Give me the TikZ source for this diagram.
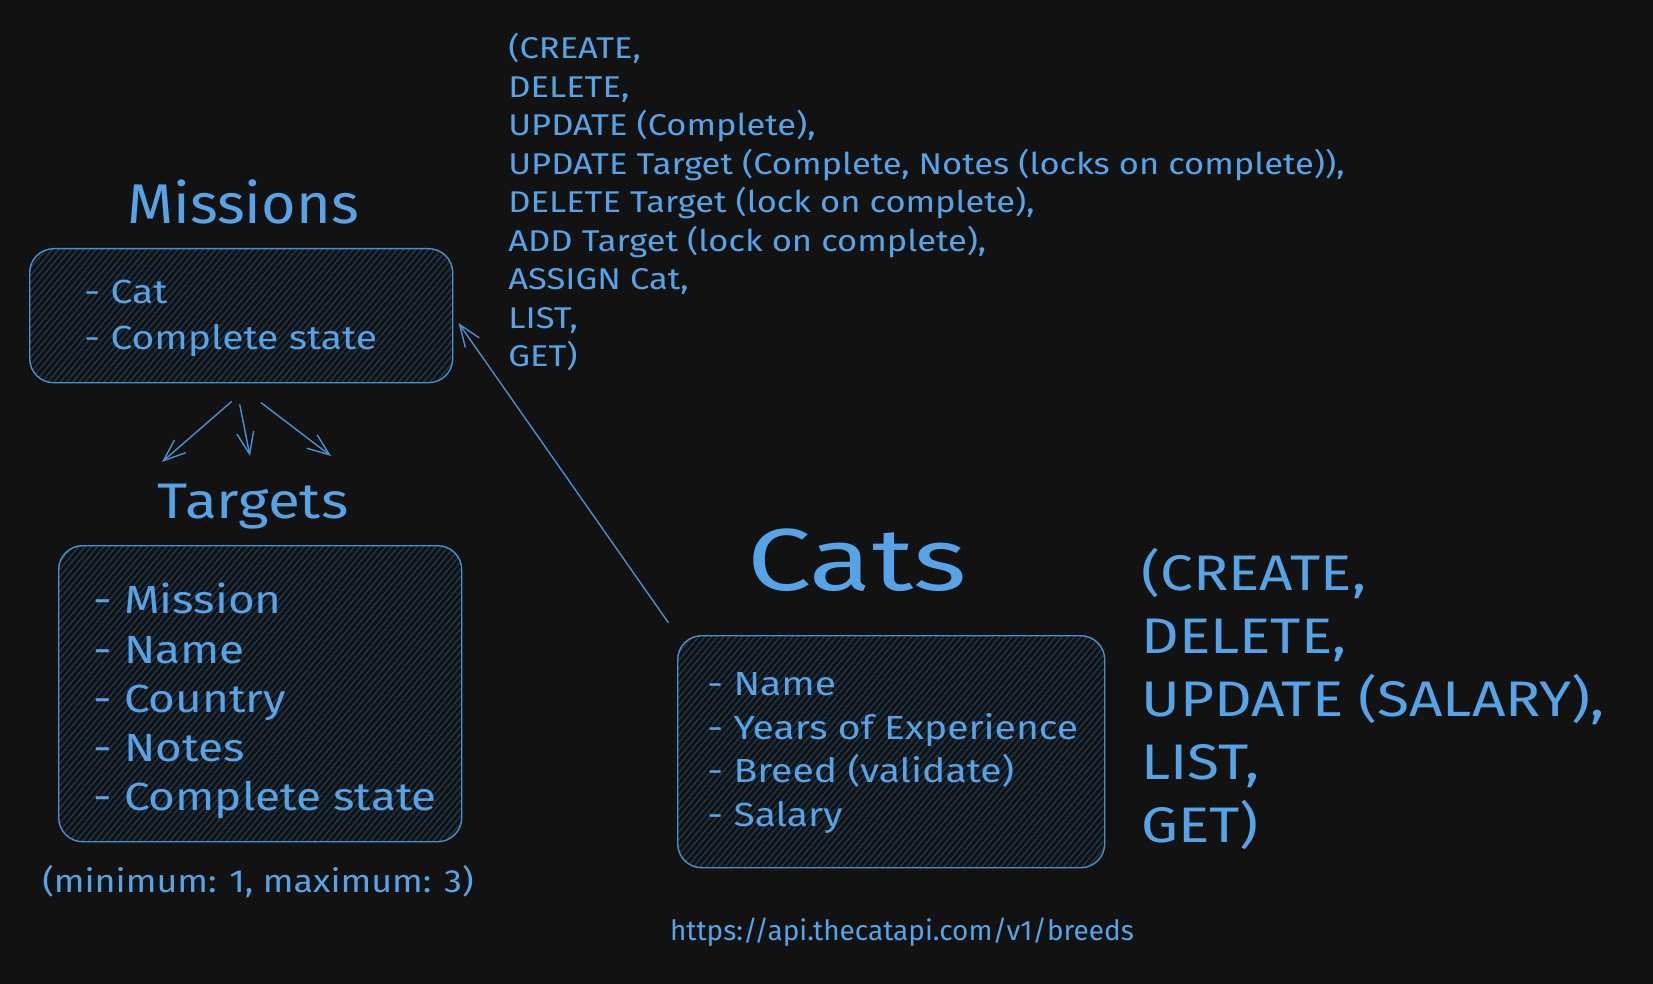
\documentclass[tikz,border=0pt]{standalone}
\usepackage{fontspec}
\setmainfont[FakeStretch=1.17]{Fira Sans}
\newfontfamily\urlfont{Fira Sans}
\newfontfamily\opsfont[FakeStretch=1.15]{Fira Sans}
\newfontfamily\notefont[FakeStretch=1.12]{Fira Sans}
\newfontfamily\missionfont[FakeStretch=1.06]{Fira Sans}
\newfontfamily\catfont[FakeStretch=1.3]{Fira Sans}
\usetikzlibrary{arrows.meta}
\usetikzlibrary{positioning}
\usetikzlibrary{patterns.meta}
\usetikzlibrary{calc}

\definecolor{bgcol}{RGB}{18,18,18}
\definecolor{ink}{RGB}{86,163,232}
\definecolor{edgeink}{RGB}{74,144,208}
\definecolor{hatch}{RGB}{30,56,80}

\tikzset{
  >={Straight Barb[length=11pt,width=8.5pt]},
  entity/.style={draw=edgeink,line width=0.7pt,rounded corners=12pt,
    preaction={fill=bgcol},
    pattern={Lines[angle=50,distance=2.4pt,line width=0.7pt]},
    pattern color=hatch,anchor=north west},
  fields/.style={text=ink,inner sep=0pt,align=left,anchor=north west},
  heading/.style={text=ink,inner sep=0pt},
  ops/.style={text=ink,inner sep=0pt,align=left,anchor=north west},
  link/.style={->,draw=edgeink,line width=0.7pt}
}

\begin{document}
\begin{tikzpicture}[x=0.5pt,y=-0.5pt]
  \fill[bgcol] (0,0) rectangle (1653,984);
  \useasboundingbox (0,0) rectangle (1653,984);

  % Missions
  \node[heading,font=\missionfont\fontsize{28}{34}\selectfont] (missionsTitle) at (243,202) {Missions};
  \node[entity,minimum width=211.5pt,minimum height=67pt] (missionsBox) at (29,248) {};
  \node[fields,font=\fontsize{16.7}{22.7}\selectfont] (missionsList) at (84,280)
    {- Cat\\- Complete state};

  % Targets
  \node[heading,font=\fontsize{25}{30}\selectfont] (targetsTitle) at (253,507) {Targets};
  \node[entity,minimum width=201.5pt,minimum height=148pt] (targetsBox) at (58,545) {};
  \node[fields,font=\fontsize{19.6}{24.6}\selectfont] (targetsList) at (93,583)
    {- Mission\\- Name\\- Country\\- Notes\\- Complete state};
  \node[heading,font=\notefont\fontsize{16}{20}\selectfont] (limitNote) at (258,882)
    {(minimum: 1, maximum: 3)};

  % Cats
  \node[heading,font=\catfont\fontsize{44}{52}\selectfont] (catsTitle) at (857,560) {Cats};
  \node[entity,minimum width=213.5pt,minimum height=116pt] (catsBox) at (677,635) {};
  \node[fields,font=\fontsize{16.7}{21.8}\selectfont] (catsList) at (707,672)
    {- Name\\- Years of Experience\\- Breed (validate)\\- Salary};
  \node[heading,font=\urlfont\fontsize{14}{17}\selectfont] (breedsUrl) at (902,932)
    {https://api.thecatapi.com/v1/breeds};

  % operations
  \node[ops,font=\opsfont\fontsize{15}{19.25}\selectfont] (missionOps) at (508,33)
    {(CREATE,\\DELETE,\\UPDATE (Complete),\\UPDATE Target (Complete, Notes (locks on complete)),\\
     DELETE Target (lock on complete),\\ADD Target (lock on complete),\\ASSIGN Cat,\\LIST,\\GET)};
  \node[ops,font=\fontsize{25}{31.5}\selectfont] (catsOps) at (1141,548)
    {(CREATE,\\DELETE,\\UPDATE (SALARY),\\LIST,\\GET)};

  % connectors
  \coordinate (fanL) at (162,462);
  \coordinate (fanM) at (250,456);
  \coordinate (fanR) at (331,456);
  \draw[link] ($(missionsBox.south)+(-9.5,18)$) -- (fanL);
  \draw[link] ($(missionsBox.south)+(-1.5,21)$) -- (fanM);
  \draw[link] ($(missionsBox.south)+(19.5,19)$) -- (fanR);
  \draw[link,shorten <=7.5pt,shorten >=4.5pt] (catsBox.north west) -- (missionsBox.east);
\end{tikzpicture}
\end{document}
